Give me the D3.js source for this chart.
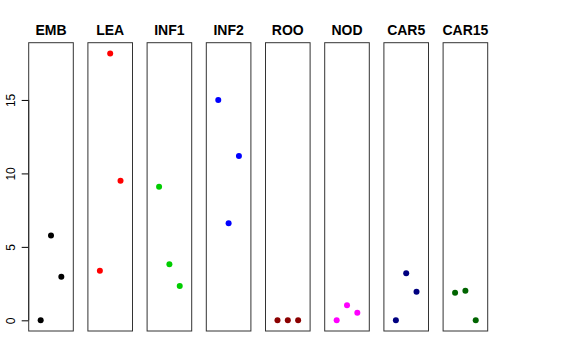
<!DOCTYPE html>
<html>
<head>
<meta charset="utf-8">
<script src="https://cdn.jsdelivr.net/npm/d3@7"></script>
<style>
body { margin: 0; background: #fff; }
</style>
</head>
<body>
<div id="myGraph"></div>
<script>
// 패널별 데이터
var categories = ["EMB", "LEA", "INF1", "INF2", "ROO", "NOD", "CAR5", "CAR15"];
var colors = ["#000000", "#ff0000", "#00cd00", "#0000ff", "#8b0000", "#ff00ff", "#000080", "#006400"];
var xValues = [1, 2, 3];
var values = [
    [0, 5.77, 2.97],
    [3.38, 18.17, 9.5],
    [9.1, 3.82, 2.34],
    [15.0, 6.61, 11.18],
    [0, 0, 0],
    [0, 1.02, 0.52],
    [0, 3.2, 1.95],
    [1.88, 2.02, 0]
];
var yTicks = [0, 5, 10, 15];

var width = 576,
    height = 360;
var plotTop = 42.7, plotBottom = 331,
    left0 = 28.7, step = 59.2, panelW = 44.6;

var svg = d3.select("#myGraph").append("svg")
    .attr("width", width)
    .attr("height", height)
    .style("font-family", "'Liberation Sans', Arial, sans-serif");

// y 척도 (R 기본 4% 여백)
var ymax = d3.max(values, function(v){ return d3.max(v); });
var pad = ymax * 0.04;
var y = d3.scaleLinear()
    .domain([-pad, ymax + pad])
    .range([plotBottom, plotTop]);

// y 축
var yAxis = svg.append("g")
    .attr("transform", "translate(" + left0 + ",0)")
    .call(d3.axisLeft(y).tickValues(yTicks).tickSize(7));
yAxis.select(".domain")
    .attr("d", "M0," + y(0) + "V" + y(15))
    .attr("stroke", "#000");
yAxis.selectAll(".tick line").attr("stroke", "#000");
yAxis.selectAll(".tick text")
    .attr("font-size", 12)
    .attr("fill", "#000")
    .attr("x", 0)
    .attr("dy", 0)
    .attr("transform", "translate(-14,0) rotate(-90)")
    .style("text-anchor", "middle");

var x = d3.scaleLinear()
    .domain([-0.16, 4.16])
    .range([0, panelW]);

var g = svg.selectAll(".panel")
    .data(categories)
    .enter().append("g")
    .attr("class", "panel")
    .attr("transform", function(d, i){ return "translate(" + (left0 + i * step) + ",0)"; });

g.append("rect")
    .attr("x", 0)
    .attr("y", plotTop)
    .attr("width", panelW)
    .attr("height", plotBottom - plotTop)
    .attr("fill", "none")
    .attr("stroke", "#333")
    .attr("stroke-width", 1);

g.append("text")
    .attr("x", panelW / 2)
    .attr("y", 35)
    .attr("text-anchor", "middle")
    .attr("font-size", 14)
    .attr("font-weight", "bold")
    .text(function(d){ return d; });

g.selectAll("circle")
    .data(function(d, i){
        return values[i].map(function(v, j){ return {x: xValues[j], y: v, c: colors[i]}; });
    })
    .enter().append("circle")
    .attr("cx", function(d){ return x(d.x); })
    .attr("cy", function(d){ return y(d.y); })
    .attr("r", 3)
    .attr("fill", function(d){ return d.c; });
</script>
</body>
</html>
